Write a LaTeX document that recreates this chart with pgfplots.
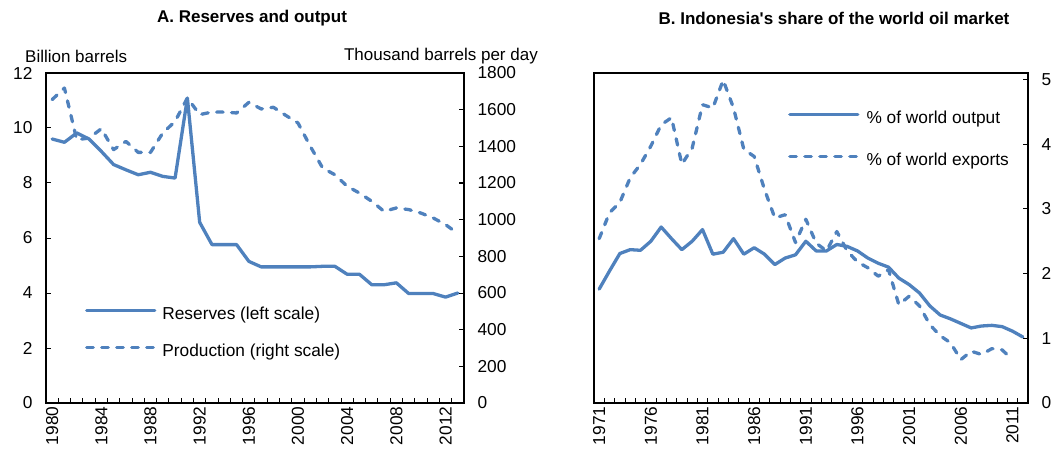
\documentclass[border=0pt]{standalone}
\usepackage{fontspec}
\setmainfont{Liberation Sans}
\newfontfamily\plainfont{Liberation Sans}
\usepackage{pgfplots}
\usepackage{pgfplotstable}
\pgfplotsset{compat=1.18}
\definecolor{imfblue}{RGB}{79,129,189}

\pgfplotstableread{
year res prod
1980 9.60 1655
1981 9.48 1718
1982 9.82 1436
1983 9.60 1445
1984 9.15 1496
1985 8.67 1382
1986 8.48 1427
1987 8.30 1367
1988 8.39 1367
1989 8.24 1473
1990 8.18 1536
1991 11.09 1664
1992 6.57 1573
1993 5.76 1587
1994 5.76 1587
1995 5.76 1582
1996 5.15 1640
1997 4.95 1604
1998 4.95 1613
1999 4.95 1569
2000 4.95 1527
2001 4.95 1400
2002 4.97 1282
2003 4.97 1245
2004 4.68 1182
2005 4.68 1145
2006 4.30 1100
2007 4.30 1045
2008 4.37 1064
2009 3.98 1055
2010 3.98 1036
2011 3.98 1009
2012 3.85 973
2013 4.00 924
}\tableA

\pgfplotstableread{
year out
1971 1.76
1972 2.04
1973 2.31
1974 2.37
1975 2.36
1976 2.50
1977 2.72
1978 2.54
1979 2.37
1980 2.50
1981 2.68
1982 2.30
1983 2.33
1984 2.54
1985 2.30
1986 2.40
1987 2.30
1988 2.14
1989 2.24
1990 2.29
1991 2.50
1992 2.35
1993 2.35
1994 2.45
1995 2.42
1996 2.35
1997 2.24
1998 2.16
1999 2.10
2000 1.93
2001 1.83
2002 1.70
2003 1.50
2004 1.36
2005 1.30
2006 1.23
2007 1.16
2008 1.19
2009 1.20
2010 1.18
2011 1.11
2012 1.02
}\tableBout

\pgfplotstableread{
year exp
1971 2.54
1972 2.94
1973 3.10
1974 3.48
1975 3.69
1976 3.97
1977 4.30
1978 4.41
1979 3.69
1980 3.94
1981 4.61
1982 4.56
1983 4.99
1984 4.56
1985 3.92
1986 3.81
1987 3.30
1988 2.86
1989 2.91
1990 2.48
1991 2.84
1992 2.47
1993 2.35
1994 2.65
1995 2.35
1996 2.18
1997 2.09
1998 1.96
1999 2.06
2000 1.52
2001 1.65
2002 1.50
2003 1.21
2004 1.04
2005 0.93
2006 0.67
2007 0.80
2008 0.75
2009 0.84
2010 0.82
2011 0.67
}\tableBexp

\begin{document}
\begin{tikzpicture}
\path[use as bounding box] (0pt,0pt) rectangle (1059pt,453pt);
\pgfplotsset{
  every axis/.append style={
    scale only axis,
    anchor=south west,
    font=\fontsize{17.3}{20}\selectfont,
    /pgf/number format/assume math mode=true,
    /pgf/number format/1000 sep={},
    axis line style={line width=1.4pt, black},
    every tick/.style={black, line width=1pt},
    major tick length=5pt,
    minor tick length=5pt,
    clip=false,
  },
  solidline/.style={imfblue, line width=3.3pt, line join=round, line cap=round},
  dashline/.style={imfblue, line width=3.3pt, line join=round, line cap=round, dash pattern=on 6.5pt off 8.5pt},
  mylegend/.style={
    legend image code/.code={\draw[##1] (0pt,5pt) -- (68pt,5pt);},
    legend cell align=left,
  },
}
% ---------- Panel A ----------
\begin{axis}[
  at={(46pt,50pt)}, width=418pt, height=330pt,
  xmin=1979.5, xmax=2013.5, ymin=0, ymax=12,
  ytick={0,2,...,12}, ytick pos=left,
  xtick={1980,1984,...,2012}, xtick pos=bottom,
  major x tick style={draw=none},
  minor xtick={1980.5,1981.5,...,2012.5},
  x tick label style={rotate=90, anchor=east},
  y tick label style={xshift=-10pt},
  mylegend,
  legend style={draw=none, fill=none, inner sep=0pt, column sep=6pt, row sep=21pt,
    nodes={inner sep=0pt, text height=12pt, text depth=4pt},
    at={(0.093,0.291)}, anchor=north west},
]
\addplot[solidline] table[x=year, y=res] {\tableA};
\addlegendentry{Reserves (left scale)}
\addlegendimage{dashline}
\addlegendentry{Production (right scale)}
\end{axis}
\begin{axis}[
  at={(46pt,50pt)}, width=418pt, height=330pt,
  xmin=1979.5, xmax=2013.5, ymin=0, ymax=1800,
  hide x axis, axis y line*=right,
  ytick={0,200,...,1800},
  y tick label style={xshift=10pt},
]
\addplot[dashline] table[x=year, y=prod] {\tableA};
\end{axis}
% ---------- Panel B ----------
\begin{axis}[
  at={(594pt,50pt)}, width=434pt, height=330pt,
  xmin=1970.5, xmax=2012.5, ymin=0, ymax=5.1,
  ytick={0,1,...,5}, ytick pos=right, yticklabel pos=right,
  xtick={1971,1976,...,2011}, xtick pos=bottom,
  major x tick style={draw=none},
  minor xtick={1971.5,1972.5,...,2011.5},
  x tick label style={rotate=90, anchor=east},
  y tick label style={xshift=10pt},
  mylegend,
  legend style={draw=none, fill=none, inner sep=0pt, column sep=7pt, row sep=26pt,
    nodes={inner sep=0pt, text height=12pt, text depth=4pt},
    at={(0.447,0.885)}, anchor=north west},
]
\addplot[solidline] table[x=year, y=out] {\tableBout};
\addlegendentry{\% of world output}
\addplot[dashline] table[x=year, y=exp] {\tableBexp};
\addlegendentry{\% of world exports}
\end{axis}
% ---------- Titles ----------
\node[font=\fontsize{17}{20}\selectfont\bfseries] at (252pt,435pt) {A. Reserves and output};
\node[font=\plainfont\fontsize{17}{20}\selectfont\bfseries] at (834pt,435pt) {B. Indonesia's share of the world oil market};
\node[font=\fontsize{17}{20}\selectfont, anchor=west, inner sep=0pt] at (25pt,397pt) {Billion barrels};
\node[font=\fontsize{17}{20}\selectfont, anchor=east, inner sep=0pt] at (538pt,397pt) {Thousand barrels per day};
\end{tikzpicture}
\end{document}
